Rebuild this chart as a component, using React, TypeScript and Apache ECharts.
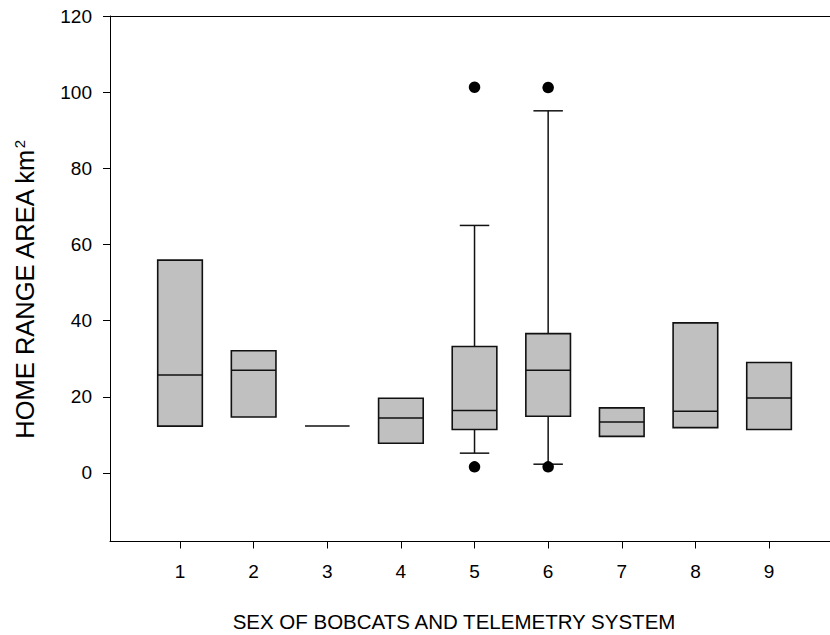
import React, { useEffect, useRef } from "react";
import * as echarts from "echarts";

const groups = [1, 2, 3, 4, 5, 6, 7, 8, 9];
const lowerWhisker = [12.3, 14.7, 12.3, 7.8, 5.2, 2.3, 9.6, 11.9, 11.4];
const q1 = [12.3, 14.7, 12.3, 7.8, 11.4, 14.9, 9.6, 11.9, 11.4];
const median = [25.7, 27.0, 12.3, 14.4, 16.4, 27.0, 13.4, 16.2, 19.7];
const q3 = [55.9, 32.1, 12.3, 19.6, 33.2, 36.6, 17.1, 39.4, 29.0];
const upperWhisker = [55.9, 32.1, 12.3, 19.6, 65.0, 95.1, 17.1, 39.4, 29.0];

const outlierGroup = [5, 5, 6, 6];
const outlierValue = [101.3, 1.6, 101.2, 1.6];

const yTicks = [0, 20, 40, 60, 80, 100, 120];

const FONT = '"Liberation Sans", Arial, Helvetica, sans-serif';
const BOX_W = 0.606;
const CAP_W = 0.4;
const X_MIN = 0.049;
const X_MAX = 9.828;

export default function App() {
  const ref = useRef<HTMLDivElement>(null);
  useEffect(() => {
    document.documentElement.style.overflow = "hidden";
    document.body.style.overflow = "hidden";
    document.body.style.margin = "0";
    if (!ref.current) return;
    const chart = echarts.init(ref.current, null, { renderer: "svg", width: 830, height: 635 });
    const boxData = groups.map((g, i) => [g, lowerWhisker[i], q1[i], median[i], q3[i], upperWhisker[i]]);
    const outData = outlierGroup.map((g, i) => [g, outlierValue[i]]);
    const stroke = "#111";
    chart.setOption({
      animation: false,
      backgroundColor: "#fff",
      grid: {
        left: 110,
        top: 16,
        right: 0,
        bottom: 93.5,
        show: false,
      },
      xAxis: [
        {
          type: "value",
          min: X_MIN,
          max: X_MAX,
          axisLine: { show: true, onZero: false, lineStyle: { color: "#000", width: 1 } },
          axisTick: { show: true, length: 7, lineStyle: { color: "#000" }, customValues: groups },
          axisLabel: {
            show: true,
            margin: 20,
            fontSize: 19,
            color: "#000",
            fontFamily: FONT,
            customValues: groups,
          },
          splitLine: { show: false },
        },
        {
          type: "value",
          position: "top",
          min: X_MIN,
          max: X_MAX,
          axisLine: { show: true, onZero: false, lineStyle: { color: "#000", width: 1 } },
          axisTick: { show: false },
          axisLabel: { show: false },
          splitLine: { show: false },
        },
      ],
      yAxis: {
        type: "value",
        min: -18,
        max: 120,
        axisLine: { show: true, onZero: false, lineStyle: { color: "#000", width: 1 } },
        axisTick: { show: true, length: 7, lineStyle: { color: "#000" }, customValues: yTicks },
        axisLabel: {
          show: true,
          margin: 18,
          fontSize: 19,
          color: "#000",
          fontFamily: FONT,
          customValues: yTicks,
        },
        splitLine: { show: false },
      },
      series: [
        {
          type: "custom",
          data: boxData,
          xAxisIndex: 0,
          encode: { x: 0, y: [1, 2, 3, 4, 5] },
          renderItem: (params: any, api: any) => {
            const x = api.value(0);
            const lo = api.value(1);
            const a = api.value(2);
            const m = api.value(3);
            const b = api.value(4);
            const hi = api.value(5);
            const pLo = api.coord([x, lo]);
            const pA = api.coord([x, a]);
            const pM = api.coord([x, m]);
            const pB = api.coord([x, b]);
            const pHi = api.coord([x, hi]);
            const hw = api.size([BOX_W, 0])[0] / 2;
            const cw = api.size([CAP_W, 0])[0] / 2;
            const cx = pA[0];
            const children: any[] = [];
            const ls = { stroke, lineWidth: 1.5 };
            if (hi > b) {
              children.push({ type: "line", shape: { x1: cx, y1: pB[1], x2: cx, y2: pHi[1] }, style: ls });
              children.push({ type: "line", shape: { x1: cx - cw, y1: pHi[1], x2: cx + cw, y2: pHi[1] }, style: ls });
            }
            if (lo < a) {
              children.push({ type: "line", shape: { x1: cx, y1: pA[1], x2: cx, y2: pLo[1] }, style: ls });
              children.push({ type: "line", shape: { x1: cx - cw, y1: pLo[1], x2: cx + cw, y2: pLo[1] }, style: ls });
            }
            if (b > a) {
              children.push({
                type: "rect",
                shape: { x: cx - hw, y: pB[1], width: 2 * hw, height: pA[1] - pB[1] },
                style: { fill: "#c0c0c0", stroke, lineWidth: 1.6 },
              });
            }
            children.push({ type: "line", shape: { x1: cx - hw, y1: pM[1], x2: cx + hw, y2: pM[1] }, style: ls });
            return { type: "group", children };
          },
          z: 2,
        },
        {
          type: "scatter",
          data: outData,
          xAxisIndex: 0,
          symbol: "circle",
          symbolSize: 11.5,
          itemStyle: { color: "#000", opacity: 1 },
          z: 3,
        },
      ],
      graphic: [
        {
          type: "text",
          x: 454,
          y: 621,
          style: {
            text: "SEX OF BOBCATS AND TELEMETRY SYSTEM",
            fontSize: 20.5,
            fontFamily: FONT,
            fill: "#000",
            align: "center",
            verticalAlign: "middle",
          },
        },
        {
          type: "text",
          x: 25,
          y: 290,
          rotation: Math.PI / 2,
          style: {
            text: "HOME RANGE AREA km{sup|2}",
            fontSize: 25.5,
            fontFamily: FONT,
            fill: "#000",
            align: "center",
            verticalAlign: "middle",
            rich: {
              sup: { fontSize: 15, fontFamily: FONT, fill: "#000", verticalAlign: "top", padding: [0, 0, 12, 0] },
            },
          },
        },
      ],
    });
    return () => chart.dispose();
  }, []);
  return (
    <div
      ref={ref}
      style={{ position: "fixed", left: 0, top: 0, width: 830, height: 635, background: "#fff" }}
    />
  );
}
